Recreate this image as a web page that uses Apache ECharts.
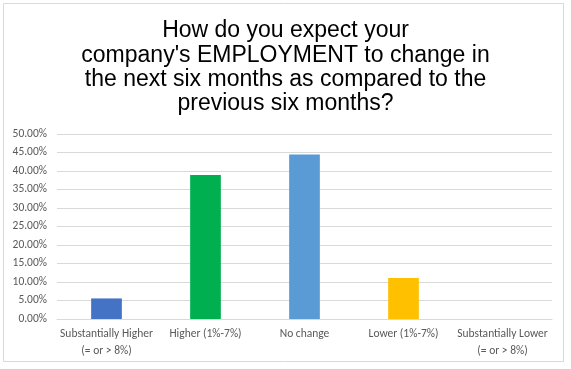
<!DOCTYPE html>
<html><head><meta charset="utf-8">
<script src="https://cdn.jsdelivr.net/npm/echarts@6/dist/echarts.min.js"></script>
<style>html,body{margin:0;padding:0;background:#fff}#c{width:571px;height:369px}</style>
</head><body><div id="c"></div>
<script>
const titleText = "How do you expect your\ncompany's EMPLOYMENT to change in\nthe next six months as compared to the\nprevious six months?";
const categories = ["Substantially Higher\n(= or > 8%)", "Higher (1%-7%)", "No change", "Lower (1%-7%)", "Substantially Lower\n(= or > 8%)"];
const values = [5.56, 38.89, 44.44, 11.11, 0];
const barColors = ["#4472C4", "#00B050", "#5B9BD5", "#FFC000", "#A5A5A5"];

const chart = echarts.init(document.getElementById('c'), null, {renderer: 'canvas'});
chart.setOption({
  animation: false,
  backgroundColor: '#fff',
  title: {
    text: titleText,
    left: 'center', top: 14,
    textStyle: {fontFamily: 'Liberation Sans, Arial, sans-serif', fontSize: 23, fontWeight: 'normal', color: '#000', lineHeight: 24.3}
  },
  graphic: [{
    type: 'rect', shape: {x: 3.5, y: 3.5, width: 560, height: 358},
    style: {fill: 'none', stroke: '#D9D9D9', lineWidth: 1}, silent: true, z: -1
  }],
  grid: {left: 57, right: 19, top: 134, bottom: 50},
  xAxis: {
    type: 'category', data: categories,
    axisLine: {lineStyle: {color: '#D9D9D9'}},
    axisTick: {show: false},
    axisLabel: {color: '#595959', fontSize: 11.5, fontFamily: 'Calibri, Carlito, Liberation Sans, sans-serif', lineHeight: 17, margin: 7, interval: 0}
  },
  yAxis: {
    type: 'value', min: 0, max: 50, interval: 5,
    axisLine: {show: false}, axisTick: {show: false},
    splitLine: {lineStyle: {color: '#D9D9D9'}},
    axisLabel: {color: '#595959', fontSize: 11.5, fontFamily: 'Calibri, Carlito, Liberation Sans, sans-serif', margin: 10, formatter: v => v.toFixed(2) + '%'}
  },
  series: [{
    type: 'bar', barWidth: '31%',
    data: values.map((v, i) => ({value: v, itemStyle: {color: barColors[i]}}))
  }]
});
</script></body></html>
